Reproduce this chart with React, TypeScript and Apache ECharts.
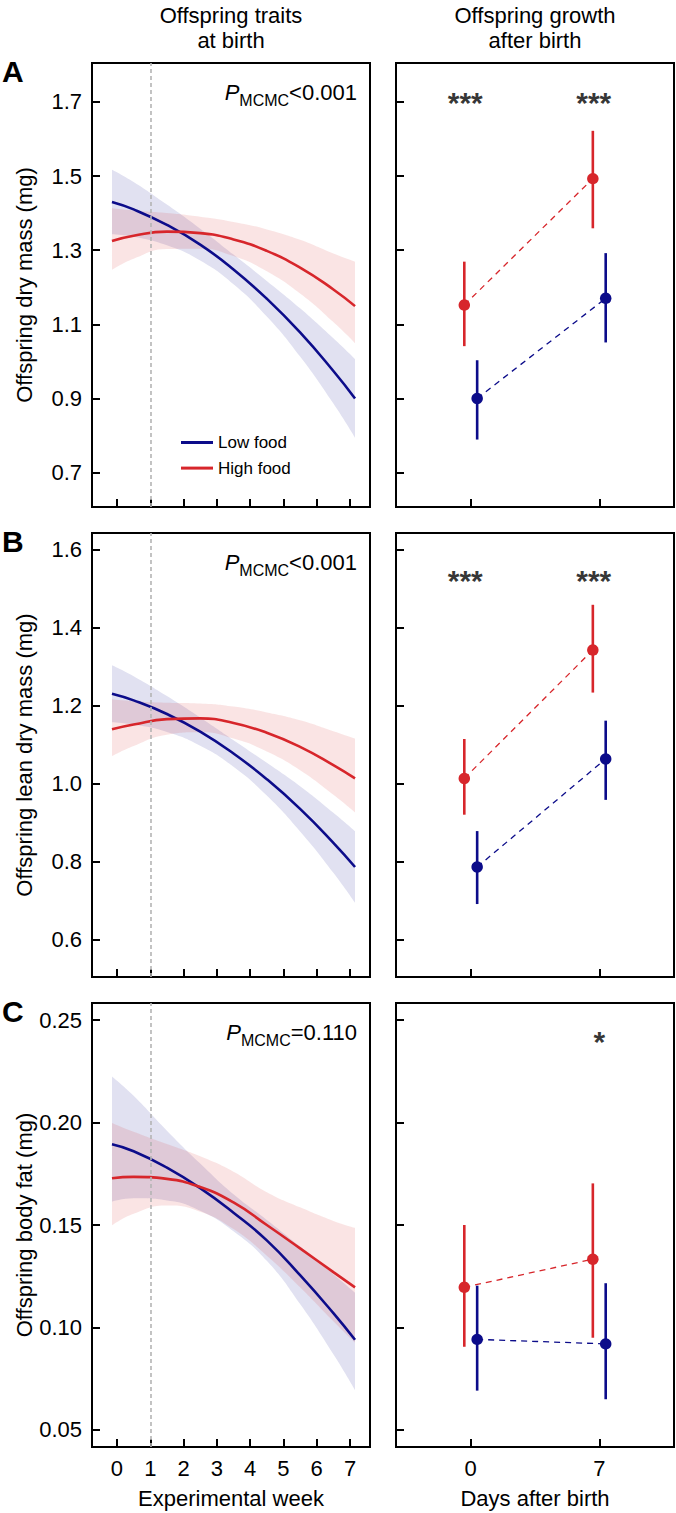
import React, { useEffect, useRef } from "react";
import * as echarts from "echarts";

// ---------------- data ----------------
// weeks at which the fitted curves (and their credible bands) were read
const weekGrid = [-0.15, 0.5, 1.5, 2.5, 3.5, 4.5, 5.5, 6.5, 7.15];
const weekTicks = [0, 1, 2, 3, 4, 5, 6, 7];
const dayTicks = [0, 7];
const highFoodDays = [-0.35, 6.65];
const lowFoodDays = [0.35, 7.35];

const dryMassTicks = [0.7, 0.9, 1.1, 1.3, 1.5, 1.7];
const leanMassTicks = [0.6, 0.8, 1.0, 1.2, 1.4, 1.6];
const bodyFatTicks = [0.05, 0.1, 0.15, 0.2, 0.25];

// A: offspring dry mass (mg)
const dryLowFit = [1.43, 1.41, 1.368, 1.315, 1.248, 1.169, 1.078, 0.974, 0.9];
const dryLowUpper = [1.517, 1.484, 1.423, 1.358, 1.288, 1.217, 1.143, 1.062, 1.006];
const dryLowLower = [1.343, 1.336, 1.313, 1.272, 1.208, 1.121, 1.013, 0.886, 0.794];
const dryHighFit = [1.325, 1.339, 1.35, 1.346, 1.329, 1.298, 1.253, 1.194, 1.149];
const dryHighUpper = [1.413, 1.407, 1.4, 1.39, 1.376, 1.356, 1.328, 1.291, 1.269];
const dryHighLower = [1.247, 1.277, 1.303, 1.304, 1.284, 1.243, 1.183, 1.106, 1.049];
const dryHighMean = [1.152, 1.493];
const dryHighCILow = [1.041, 1.359];
const dryHighCIHigh = [1.269, 1.622];
const dryLowMean = [0.9, 1.17];
const dryLowCILow = [0.789, 1.051];
const dryLowCIHigh = [1.003, 1.292];
const dryStars = ["***", "***"];
const dryStarDays = [-0.3, 6.7];
const dryStarY = [1.711, 1.711];

// B: offspring lean dry mass (mg)
const leanLowFit = [1.231, 1.214, 1.179, 1.134, 1.078, 1.012, 0.936, 0.849, 0.787];
const leanLowUpper = [1.304, 1.276, 1.225, 1.17, 1.112, 1.054, 0.994, 0.926, 0.879];
const leanLowLower = [1.158, 1.152, 1.133, 1.098, 1.044, 0.97, 0.878, 0.772, 0.695];
const leanHighFit = [1.14, 1.152, 1.166, 1.168, 1.156, 1.131, 1.095, 1.048, 1.014];
const leanHighUpper = [1.217, 1.212, 1.208, 1.206, 1.198, 1.183, 1.163, 1.135, 1.116];
const leanHighLower = [1.071, 1.097, 1.126, 1.132, 1.116, 1.083, 1.035, 0.972, 0.927];
const leanHighMean = [1.014, 1.343];
const leanHighCILow = [0.921, 1.234];
const leanHighCIHigh = [1.115, 1.459];
const leanLowMean = [0.787, 1.064];
const leanLowCILow = [0.692, 0.959];
const leanLowCIHigh = [0.879, 1.162];
const leanStars = ["***", "***"];
const leanStarDays = [-0.3, 6.7];
const leanStarY = [1.534, 1.534];

// C: offspring body fat (mg)
const fatLowFit = [0.1894, 0.186, 0.178, 0.168, 0.156, 0.1425, 0.1255, 0.107, 0.094];
const fatLowUpper = [0.2224, 0.213, 0.196, 0.18, 0.165, 0.1525, 0.1395, 0.126, 0.117];
const fatLowLower = [0.1614, 0.163, 0.162, 0.157, 0.147, 0.1325, 0.1115, 0.087, 0.0695];
const fatHighFit = [0.1728, 0.1735, 0.1725, 0.1685, 0.161, 0.15, 0.1386, 0.127, 0.1196];
const fatHighUpper = [0.1998, 0.1955, 0.1895, 0.1835, 0.176, 0.166, 0.1586, 0.152, 0.1486];
const fatHighLower = [0.1498, 0.1555, 0.1595, 0.1565, 0.148, 0.135, 0.1196, 0.103, 0.0926];
const fatHighMean = [0.1196, 0.1333];
const fatHighCILow = [0.0906, 0.095];
const fatHighCIHigh = [0.15, 0.1703];
const fatLowMean = [0.0942, 0.092];
const fatLowCILow = [0.0692, 0.065];
const fatLowCIHigh = [0.1204, 0.1216];
const fatStars = ["*"];
const fatStarDays = [7.0];
const fatStarY = [0.2419];

const pValues = ["<0.001", "<0.001", "=0.110"];

// ---------------- styling / layout ----------------
const FONT = "'Liberation Sans', Arial, Helvetica, sans-serif";
const NAVY = "#0c0c8a";
const RED = "#d7262b";
const NAVY_BAND = "rgba(12,12,138,0.12)";
const RED_BAND = "rgba(215,38,43,0.125)";

const LEFT_X = 92;
const LEFT_W = 278;
const RIGHT_X = 396;
const RIGHT_W = 278;
const ROW_TOPS = [63, 533, 1003];
const ROW_H = 444;

type Row = {
  letter: string;
  yName: string;
  ymin: number;
  ymax: number;
  ticks: number[];
  dec: number;
  lowFit: number[];
  lowUpper: number[];
  lowLower: number[];
  highFit: number[];
  highUpper: number[];
  highLower: number[];
  highMean: number[];
  highLo: number[];
  highHi: number[];
  lowMean: number[];
  lowLo: number[];
  lowHi: number[];
  stars: string[];
  starDays: number[];
  starY: number[];
  p: string;
};

const rows: Row[] = [
  {
    letter: "A", yName: "Offspring dry mass (mg)", ymin: 0.607, ymax: 1.805, ticks: dryMassTicks, dec: 1,
    lowFit: dryLowFit, lowUpper: dryLowUpper, lowLower: dryLowLower,
    highFit: dryHighFit, highUpper: dryHighUpper, highLower: dryHighLower,
    highMean: dryHighMean, highLo: dryHighCILow, highHi: dryHighCIHigh,
    lowMean: dryLowMean, lowLo: dryLowCILow, lowHi: dryLowCIHigh,
    stars: dryStars, starDays: dryStarDays, starY: dryStarY, p: pValues[0],
  },
  {
    letter: "B", yName: "Offspring lean dry mass (mg)", ymin: 0.505, ymax: 1.643, ticks: leanMassTicks, dec: 1,
    lowFit: leanLowFit, lowUpper: leanLowUpper, lowLower: leanLowLower,
    highFit: leanHighFit, highUpper: leanHighUpper, highLower: leanHighLower,
    highMean: leanHighMean, highLo: leanHighCILow, highHi: leanHighCIHigh,
    lowMean: leanLowMean, lowLo: leanLowCILow, lowHi: leanLowCIHigh,
    stars: leanStars, starDays: leanStarDays, starY: leanStarY, p: pValues[1],
  },
  {
    letter: "C", yName: "Offspring body fat (mg)", ymin: 0.0417, ymax: 0.2583, ticks: bodyFatTicks, dec: 2,
    lowFit: fatLowFit, lowUpper: fatLowUpper, lowLower: fatLowLower,
    highFit: fatHighFit, highUpper: fatHighUpper, highLower: fatHighLower,
    highMean: fatHighMean, highLo: fatHighCILow, highHi: fatHighCIHigh,
    lowMean: fatLowMean, lowLo: fatLowCILow, lowHi: fatLowCIHigh,
    stars: fatStars, starDays: fatStarDays, starY: fatStarY, p: pValues[2],
  },
];

const zip = (xs: number[], ys: number[]) => xs.map((x, i) => [x, ys[i]]);
// [y, x] pairs: the value dimension comes first so that stacking acts on y
const zipYX = (xs: number[], ys: number[]) => xs.map((x, i) => [ys[i], x]);

function buildOption() {
  const grid: any[] = [];
  const xAxis: any[] = [];
  const yAxis: any[] = [];
  const series: any[] = [];
  const graphic: any[] = [];

  const tickStyle = { color: "#000", width: 2 };
  const labelBase = { color: "#000", fontSize: 22, fontFamily: FONT };
  const noLine = { show: false, onZero: false };

  rows.forEach((r, i) => {
    const top = ROW_TOPS[i];
    const gl = i * 2;
    const gr = i * 2 + 1;
    const last = i === rows.length - 1;

    [
      { left: LEFT_X, width: LEFT_W },
      { left: RIGHT_X, width: RIGHT_W },
    ].forEach((g) => {
      grid.push({
        left: g.left, top, width: g.width, height: ROW_H,
        show: true, borderColor: "#000", borderWidth: 2, backgroundColor: "transparent",
        containLabel: false, outerBoundsMode: "none",
      });
    });

    // x axes
    xAxis.push({
      gridIndex: gl, type: "value", min: -0.75, max: 7.6, position: "bottom",
      axisLine: noLine, splitLine: { show: false },
      axisTick: { show: true, inside: true, length: 8, lineStyle: tickStyle, customValues: weekTicks },
      axisLabel: { show: last, customValues: weekTicks, margin: 10, ...labelBase },
      name: last ? "Experimental week" : "", nameLocation: "middle", nameGap: 40,
      nameTextStyle: { ...labelBase },
    });
    xAxis.push({
      gridIndex: gr, type: "value", min: -4.07, max: 11.07, position: "bottom",
      axisLine: noLine, splitLine: { show: false },
      axisTick: { show: true, inside: true, length: 8, lineStyle: tickStyle, customValues: dayTicks },
      axisLabel: { show: last, customValues: dayTicks, margin: 10, ...labelBase },
      name: last ? "Days after birth" : "", nameLocation: "middle", nameGap: 40,
      nameTextStyle: { ...labelBase },
    });

    // y axes
    [gl, gr].forEach((gi, k) => {
      yAxis.push({
        gridIndex: gi, type: "value", min: r.ymin, max: r.ymax, position: "left",
        axisLine: noLine, splitLine: { show: false },
        axisTick: { show: true, inside: true, length: 8, lineStyle: tickStyle, customValues: r.ticks },
        axisLabel: {
          show: k === 0, customValues: r.ticks, margin: 10,
          formatter: (v: number) => v.toFixed(r.dec), ...labelBase,
        },
        name: k === 0 ? r.yName : "", nameLocation: "middle", nameGap: 57,
        nameTextStyle: { ...labelBase },
      });
    });

    // ---- left panel: credible bands (lower edge + stacked width) ----
    const band = (key: string, lower: number[], upper: number[], color: string, withMark: boolean) => {
      series.push({
        type: "line", name: key + "-lower", xAxisIndex: gl, yAxisIndex: gl, stack: key + i,
        data: zipYX(weekGrid, lower), encode: { x: 1, y: 0 },
        smooth: true, symbol: "none", silent: true, z: 1,
        lineStyle: { width: 0, opacity: 0 },
        markLine: withMark
          ? {
              silent: true, symbol: ["none", "none"], label: { show: false },
              lineStyle: { color: "#b4b4b4", type: [4, 3], width: 1.6 },
              data: [{ xAxis: 1 }],
            }
          : undefined,
      });
      series.push({
        type: "line", name: key + "-upper", xAxisIndex: gl, yAxisIndex: gl, stack: key + i,
        data: zipYX(weekGrid, upper.map((u, k) => u - lower[k])), encode: { x: 1, y: 0 },
        smooth: true, symbol: "none", silent: true, z: 1,
        lineStyle: { width: 0, opacity: 0 },
        areaStyle: { color, opacity: 1 },
      });
    };
    band("lowband", r.lowLower, r.lowUpper, NAVY_BAND, true);
    band("highband", r.highLower, r.highUpper, RED_BAND, false);

    // fitted curves
    series.push({
      type: "line", name: "Low food", xAxisIndex: gl, yAxisIndex: gl, data: zip(weekGrid, r.lowFit),
      smooth: true, symbol: "none", z: 4, color: NAVY,
      lineStyle: { color: NAVY, width: 2.6 }, itemStyle: { color: NAVY },
    });
    series.push({
      type: "line", name: "High food", xAxisIndex: gl, yAxisIndex: gl, data: zip(weekGrid, r.highFit),
      smooth: true, symbol: "none", z: 4, color: RED,
      lineStyle: { color: RED, width: 2.6 }, itemStyle: { color: RED },
    });

    // ---- right panel: growth after birth ----
    const group = (days: number[], mean: number[], lo: number[], hi: number[], color: string, key: string) => {
      series.push({
        type: "line", name: key + "-link", xAxisIndex: gr, yAxisIndex: gr, data: zip(days, mean),
        symbol: "none", silent: true, z: 2,
        lineStyle: { color, width: 1.3, type: [6, 5] },
      });
      series.push({
        type: "custom", name: key + "-ci", xAxisIndex: gr, yAxisIndex: gr, silent: true, z: 3,
        data: days.map((d, k) => [d, lo[k], hi[k]]),
        encode: { x: 0, y: [1, 2] },
        renderItem: (_p: any, api: any) => {
          const x = api.value(0);
          const a = api.coord([x, api.value(1)]);
          const b = api.coord([x, api.value(2)]);
          return {
            type: "line",
            shape: { x1: a[0], y1: a[1], x2: b[0], y2: b[1] },
            style: { stroke: color, lineWidth: 2.6 },
          };
        },
      });
      series.push({
        type: "scatter", name: key + "-mean", xAxisIndex: gr, yAxisIndex: gr, data: zip(days, mean),
        symbol: "circle", symbolSize: 11.5, silent: true, z: 4, itemStyle: { color, opacity: 1 },
      });
    };
    group(highFoodDays, r.highMean, r.highLo, r.highHi, RED, "high");
    group(lowFoodDays, r.lowMean, r.lowLo, r.lowHi, NAVY, "low");

    series.push({
      type: "scatter", name: "stars", xAxisIndex: gr, yAxisIndex: gr, silent: true, z: 5,
      data: r.starDays.map((d, k) => [d, r.starY[k], r.stars[k]]),
      symbolSize: 2, itemStyle: { color: "rgba(0,0,0,0)" },
      label: {
        show: true, position: "inside", offset: [0, 5],
        formatter: (p: any) => p.value[2],
        color: "#000", fontSize: 30, fontWeight: "bold", fontFamily: FONT,
      },
    });

    // panel letter
    graphic.push({
      type: "text", x: 2, y: top + 8,
      style: {
        text: r.letter, fontSize: 30, fontWeight: "bold", fontFamily: FONT,
        fill: "#000", align: "left", verticalAlign: "middle",
      },
    });
    // P_MCMC annotation
    graphic.push({
      type: "text", x: LEFT_X + LEFT_W - 13, y: top + 29,
      style: {
        text: "{p|P}{s|MCMC}{n|" + r.p + "}",
        align: "right", verticalAlign: "middle", fill: "#000", fontFamily: FONT,
        rich: {
          p: { fontSize: 22, fontStyle: "italic", fontFamily: FONT, lineHeight: 32, verticalAlign: "middle", fill: "#000" },
          s: { fontSize: 16, fontFamily: FONT, lineHeight: 32, verticalAlign: "bottom", fill: "#000" },
          n: { fontSize: 22, fontFamily: FONT, lineHeight: 32, verticalAlign: "middle", fill: "#000" },
        },
      },
    });
  });

  // column titles
  graphic.push({
    type: "text", x: LEFT_X + LEFT_W / 2, y: 3,
    style: {
      text: "Offspring traits\nat birth", fontSize: 22, lineHeight: 25, fontFamily: FONT,
      fill: "#000", align: "center", verticalAlign: "top",
    },
  });
  graphic.push({
    type: "text", x: RIGHT_X + RIGHT_W / 2, y: 3,
    style: {
      text: "Offspring growth\nafter birth", fontSize: 22, lineHeight: 25, fontFamily: FONT,
      fill: "#000", align: "center", verticalAlign: "top",
    },
  });

  return {
    animation: false,
    backgroundColor: "#fff",
    textStyle: { fontFamily: FONT, color: "#000" },
    grid, xAxis, yAxis, series, graphic,
    legend: {
      show: true, orient: "vertical", left: 176, top: 429,
      data: ["Low food", "High food"], icon: "rect", itemWidth: 32, itemHeight: 3, itemGap: 8.6,
      selectedMode: false,
      textStyle: { fontSize: 17, color: "#000", fontFamily: FONT },
    },
  };
}

export default function App() {
  const ref = useRef<HTMLDivElement>(null);
  useEffect(() => {
    document.body.style.margin = "0";
    if (!ref.current) return;
    const chart = echarts.init(ref.current, undefined, { renderer: "svg" });
    chart.setOption(buildOption() as any);
    return () => chart.dispose();
  }, []);
  return <div ref={ref} style={{ width: 676, height: 1513 }} />;
}
